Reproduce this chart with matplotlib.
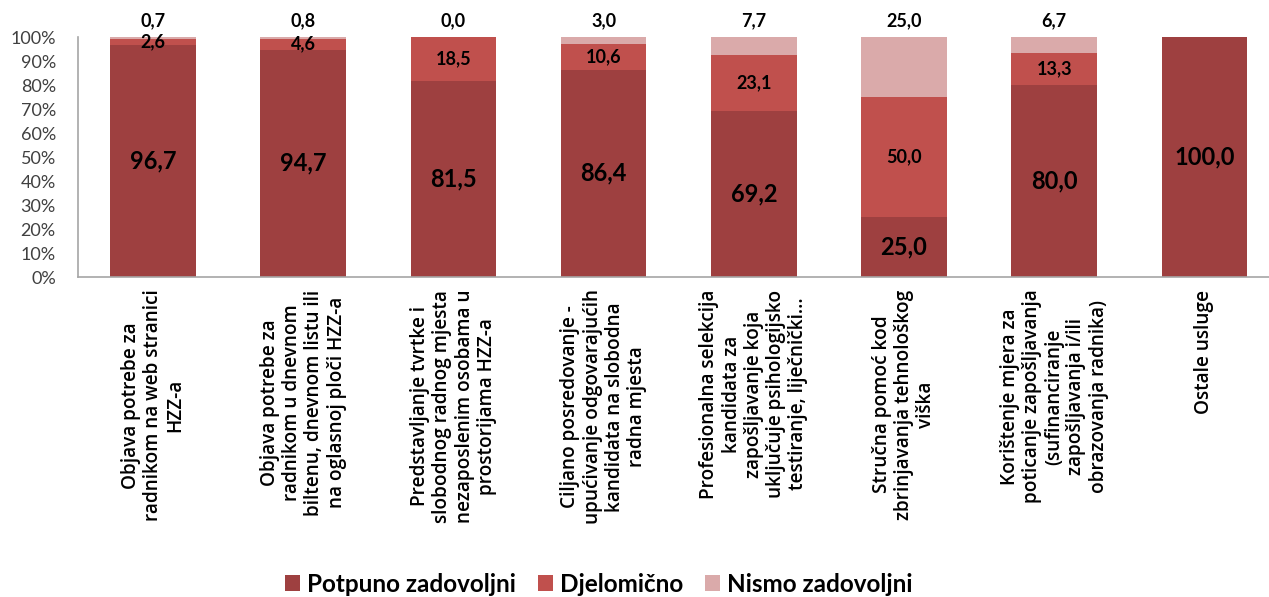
import numpy as np
import matplotlib
matplotlib.use("Agg")
import matplotlib.pyplot as plt
from matplotlib.ticker import PercentFormatter

plt.rcParams['font.family'] = ['Lato', 'DejaVu Sans']

categories = [
    "Objava potrebe za\nradnikom na web stranici\nHZZ-a",
    "Objava potrebe za\nradnikom u dnevnom\nbiltenu, dnevnom listu ili\nna oglasnoj ploči HZZ-a",
    "Predstavljanje tvrtke i\nslobodnog radnog mjesta\nnezaposlenim osobama u\nprostorijama HZZ-a",
    "Ciljano posredovanje -\nupućivanje odgovarajućih\nkandidata na slobodna\nradna mjesta",
    "Profesionalna selekcija\nkandidata za\nzapošljavanje koja\nuključuje psihologijsko\ntestiranje, liječnički...",
    "Stručna pomoć kod\nzbrinjavanja tehnološkog\nviška",
    "Korištenje mjera za\npoticanje zapošljavanja\n(sufinanciranje\nzapošljavanja i/ili\nobrazovanja radnika)",
    "Ostale usluge",
]
series_names = ["Potpuno zadovoljni", "Djelomično", "Nismo zadovoljni"]
potpuno = [96.7, 94.7, 81.5, 86.4, 69.2, 25.0, 80.0, 100.0]
djelomicno = [2.6, 4.6, 18.5, 10.6, 23.1, 50.0, 13.3, np.nan]
nismo = [0.7, 0.8, 0.0, 3.0, 7.7, 25.0, 6.7, np.nan]
yticks = [0, 10, 20, 30, 40, 50, 60, 70, 80, 90, 100]

colors = ["#9E4040", "#C0504D", "#DAAAAA"]

fig = plt.figure(figsize=(12.69, 5.97), dpi=100)
ax = fig.add_axes([78/1269, 1-277/597, 1-78/1269, 240/597])

x = np.arange(len(categories))
w = 0.57
p = np.array(potpuno, dtype=float)
d = np.array(djelomicno, dtype=float)
n = np.array(nismo, dtype=float)
d0 = np.nan_to_num(d)
n0 = np.nan_to_num(n)

ax.bar(x, p, w, color=colors[0], label=series_names[0])
ax.bar(x, d0, w, bottom=p, color=colors[1], label=series_names[1])
ax.bar(x, n0, w, bottom=p + d0, color=colors[2], label=series_names[2])

def fmt(v):
    return f"{v:.1f}".replace(".", ",")

for i in range(len(x)):
    ax.text(x[i], p[i] / 2, fmt(p[i]), ha="center", va="center",
            fontsize=17, fontweight="bold", color="black")
    if not np.isnan(d[i]):
        ax.text(x[i], p[i] + d[i] / 2, fmt(d[i]), ha="center", va="center",
                fontsize=13, fontweight="bold", color="black")
    if not np.isnan(n[i]):
        ax.annotate(fmt(n[i]), (x[i], 100), xytext=(0, 11.5), textcoords="offset points",
                    ha="center", va="center", fontsize=13, fontweight="bold", color="black")

ax.set_ylim(0, 100)
ax.set_xlim(-0.5, 7.43)
ax.set_yticks(yticks)
ax.yaxis.set_major_formatter(PercentFormatter(decimals=0))
ax.tick_params(axis="y", length=0, labelsize=13, pad=16, labelcolor="#404040")
ax.set_xticks(x)
ax.set_xticklabels(categories, rotation=90, ha="center", va="top",
                   multialignment="center", fontsize=13.7, family="Open Sans",
                   fontweight="semibold", linespacing=1.15)
ax.tick_params(axis="x", length=0, pad=9)
for s in ["top", "right"]:
    ax.spines[s].set_visible(False)
for s in ["left", "bottom"]:
    ax.spines[s].set_color("#A6A6A6")
    ax.spines[s].set_linewidth(1.2)

leg = fig.legend(loc="center", bbox_to_anchor=(0.472, 1-584/597), ncol=3, frameon=False,
                 handlelength=0.6, handleheight=0.6, columnspacing=0.9,
                 handletextpad=0.3, prop={"weight": "bold", "size": 17.5})

fig.savefig("out.png", dpi=100)
